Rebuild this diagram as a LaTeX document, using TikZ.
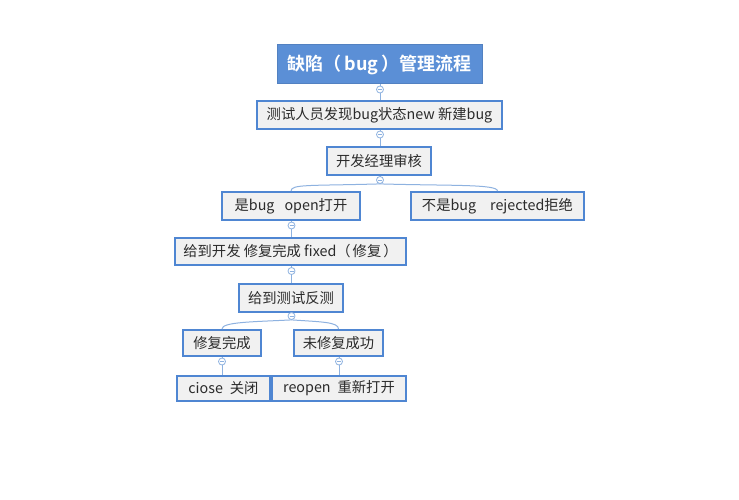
\documentclass[tikz,border=0pt]{standalone}
\usepackage{fontspec}
\setmainfont{Noto Sans CJK SC}[BoldFont={Noto Sans CJK SC Bold}]
\definecolor{boxblue}{HTML}{4F86D2}
\definecolor{titleblue}{HTML}{5B8FD6}
\definecolor{boxfill}{HTML}{F1F1F1}
\definecolor{linkblue}{HTML}{8EB2E0}
\definecolor{txt}{HTML}{2B2B2B}
\begin{document}
\begin{tikzpicture}[x=1pt,y=-1pt,
  box/.style={draw=boxblue,line width=2pt,fill=boxfill,inner sep=0pt,text=txt,font=\fontsize{14.3}{17}\selectfont,anchor=center},
  titlebox/.style={draw=titleblue!90!black,line width=1pt,fill=titleblue,inner sep=0pt,text=white,font=\bfseries\fontsize{18}{22}\selectfont,anchor=center},
  link/.style={draw=linkblue,line width=1pt},
  knob/.style={circle,draw=linkblue,fill=white,line width=0.8pt,minimum size=7pt,inner sep=0pt,
    path picture={\draw[linkblue,line width=0.7pt] ([xshift=-2pt]path picture bounding box.center) -- ([xshift=2pt]path picture bounding box.center);}}
]
\useasboundingbox[fill=white] (0,0) rectangle (739,500);

\node[titlebox,minimum width=205pt,minimum height=39pt] (t) at (379.5,64.5) {缺陷（\hspace{3pt}bug\hspace{3pt}）管理流程};
\node[box,minimum width=245pt,minimum height=28pt] (n1) at (379.5,115) {测试人员发现bug状态new 新建bug};
\node[box,minimum width=104pt,minimum height=27pt] (n2) at (379,161) {开发经理审核};
\node[box,minimum width=138pt,minimum height=28pt] (n3) at (291,206) {是bug\hspace{10pt}open打开};
\node[box,minimum width=173pt,minimum height=28pt] (n4) at (497.5,206) {不是bug\hspace{14pt}rejected拒绝};
\node[box,minimum width=231pt,minimum height=27pt] (n5) at (290.5,251.5) {给到开发 修复完成 fixed（\hspace{2pt}修复\hspace{2pt}）};
\node[box,minimum width=104pt,minimum height=28pt] (n6) at (291,298) {给到测试反测};
\node[box,minimum width=78pt,minimum height=26pt] (n7) at (222,343) {修复完成};
\node[box,minimum width=89pt,minimum height=26pt] (n8) at (338.5,343) {未修复成功};
\node[box,minimum width=93pt,minimum height=25pt] (n9) at (223.5,388) {ciose\hspace{7pt}关闭};
\node[box,minimum width=134pt,minimum height=25pt] (n10) at (339,388) {reopen\hspace{7pt}重新打开};

% knobs
\node[knob] (k0) at (380,89.5) {};
\node[knob] (k1) at (380,134.5) {};
\node[knob] (k2) at (380,180) {};
\node[knob] (k3) at (291.5,225.5) {};
\node[knob] (k5) at (291.5,271) {};
\node[knob] (k6) at (291.5,316) {};
\node[knob] (k7) at (222,361.5) {};
\node[knob] (k8) at (339,361.5) {};

% links
\draw[link] (t.south -| k0) -- (k0.north);
\draw[link] (k0.south) -- (n1.north -| k0);
\draw[link] (n1.south -| k1) -- (k1.north);
\draw[link] (k1.south) -- (n2.north -| k1);
\draw[link] (n2.south -| k2) -- (k2.north);
\draw[link] (k2.south) .. controls +(-70,2) and +(0,-7) .. (n3.north);
\draw[link] (k2.south) .. controls +(70,2) and +(0,-7) .. (n4.north);
\draw[link] (n3.south -| k3) -- (k3.north);
\draw[link] (k3.south) -- (n5.north -| k3);
\draw[link] (n5.south -| k5) -- (k5.north);
\draw[link] (k5.south) -- (n6.north -| k5);
\draw[link] (n6.south -| k6) -- (k6.north);
\draw[link] (k6.south) .. controls +(-40,2) and +(0,-7) .. (n7.north);
\draw[link] (k6.south) .. controls +(30,2) and +(0,-7) .. (n8.north);
\draw[link] (n7.south -| k7) -- (k7.north);
\draw[link] (k7.south) -- (n9.north -| k7);
\draw[link] (n8.south -| k8) -- (k8.north);
\draw[link] (k8.south) -- (n10.north -| k8);
\end{tikzpicture}
\end{document}
